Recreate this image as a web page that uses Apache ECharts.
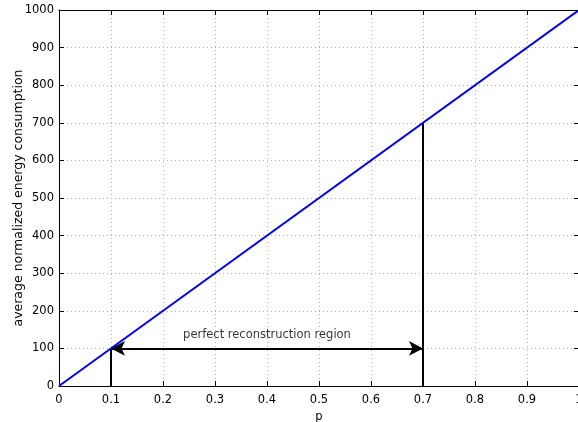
<!DOCTYPE html>
<html>
<head>
<meta charset="utf-8">
<script src="https://cdn.jsdelivr.net/npm/echarts@6/dist/echarts.min.js"></script>
<style>
  html, body { margin: 0; padding: 0; background: #fff; }
  #chart { width: 578px; height: 422px; }
</style>
</head>
<body>
<div id="chart"></div>
<script>
'use strict';

// energy grows linearly with p
var pValues = [0, 1];
var energyValues = [0, 1000];

// perfect reconstruction region bounds
var regionStart = [0.1, 100];
var regionEnd = [0.7, 700];
var regionLabel = 'perfect reconstruction region';
var regionLabelPos = [0.4, 136];

var xName = 'p';
var yName = 'average normalized energy consumption';

var fontFamily = 'DejaVu Sans, sans-serif';
var fontSize = 11.5;

var chart = echarts.init(document.getElementById('chart'));

var lineData = pValues.map(function (p, i) { return [p, energyValues[i]]; });

var gridLine = { show: true, lineStyle: { color: '#b0b0b0', type: [1, 3], width: 1 } };
var axisLine = { show: true, onZero: false, lineStyle: { color: '#000', width: 1 } };
var axisTick = { show: true, inside: true, length: 5, lineStyle: { color: '#000' } };

var option = {
    animation: false,
    backgroundColor: '#fff',
    grid: { left: 59, right: -1, top: 10, bottom: 36, containLabel: false, outerBoundsMode: 'none' },
    xAxis: [
        {
            type: 'value', min: 0, max: 1, interval: 0.1,
            name: xName, nameLocation: 'middle', nameGap: 21,
            nameTextStyle: { color: '#000', fontSize: fontSize, fontFamily: fontFamily },
            axisLine: axisLine, axisTick: axisTick,
            axisLabel: { color: '#000', fontSize: fontSize, fontFamily: fontFamily, margin: 8 },
            splitLine: gridLine
        },
        {
            type: 'value', min: 0, max: 1, interval: 0.1, position: 'top',
            axisLine: axisLine, axisTick: axisTick,
            axisLabel: { show: false }, splitLine: { show: false }
        }
    ],
    yAxis: [
        {
            type: 'value', min: 0, max: 1000, interval: 100,
            name: yName, nameLocation: 'middle', nameGap: 34, nameMoveOverlap: false,
            nameTextStyle: { color: '#000', fontSize: 12.5, fontFamily: fontFamily },
            axisLine: axisLine, axisTick: axisTick,
            axisLabel: {
                color: '#000', fontSize: fontSize, fontFamily: fontFamily, margin: 5,
                formatter: function (v) { return String(v); }
            },
            splitLine: gridLine
        },
        {
            type: 'value', min: 0, max: 1000, interval: 100, position: 'right',
            axisLine: axisLine, axisTick: axisTick,
            axisLabel: { show: false }, splitLine: { show: false }
        }
    ],
    series: [
        {
            type: 'line',
            data: [[regionStart[0], 0], [regionStart[0], regionStart[1]]],
            symbol: 'none',
            lineStyle: { color: '#000', width: 2 },
            z: 3
        },
        {
            type: 'line',
            data: [[regionEnd[0], 0], [regionEnd[0], regionEnd[1]]],
            symbol: 'none',
            lineStyle: { color: '#000', width: 2 },
            z: 3
        },
        {
            type: 'line',
            data: lineData,
            symbol: 'none',
            lineStyle: { color: '#0000ff', width: 2 },
            z: 4,
            markLine: {
                silent: true,
                symbol: ['arrow', 'arrow'],
                symbolSize: [11, 14],
                lineStyle: { color: '#000', width: 2, type: 'solid' },
                label: { show: false },
                data: [[
                    { coord: [regionStart[0], regionStart[1]] },
                    { coord: [regionEnd[0], regionStart[1]] }
                ]]
            }
        },
        {
            type: 'scatter',
            data: [regionLabelPos],
            symbolSize: 0,
            label: {
                show: true,
                position: 'inside',
                formatter: regionLabel,
                color: '#000',
                fontSize: fontSize,
                fontFamily: fontFamily
            }
        }
    ]
};

chart.setOption(option);
</script>
</body>
</html>
